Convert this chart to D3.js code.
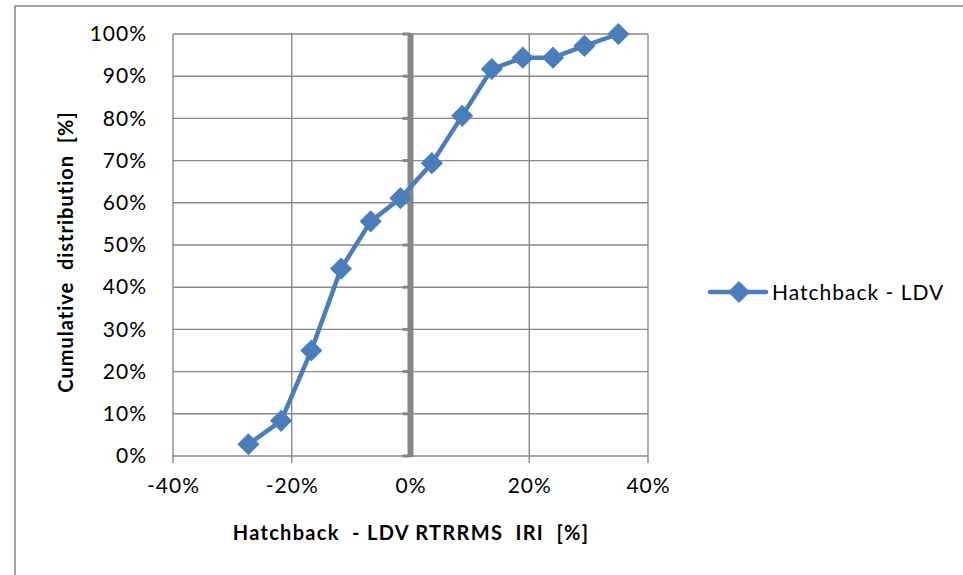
<!DOCTYPE html>
<html>
<head>
<meta charset="utf-8">
<script src="https://cdn.jsdelivr.net/npm/d3@7"></script>
<style>
  html, body { margin: 0; padding: 0; background: #fff; }
  svg { display: block; }
  text { font-family: Lato, "Open Sans", sans-serif; fill: #000; }
</style>
</head>
<body>
<svg id="chart" width="963" height="575"></svg>
<script>
// ---- data ----
const seriesName = "Hatchback - LDV";
const xValues = [-27.3, -21.8, -16.7, -11.7, -6.7, -1.7, 3.6, 8.7, 13.7, 18.9, 24.0, 29.3, 35.0];
const yValues = [2.78, 8.33, 25.0, 44.4, 55.6, 61.1, 69.4, 80.6, 91.7, 94.4, 94.4, 97.2, 100.0];
const xTicks = [-40, -20, 0, 20, 40];
const yTicks = [0, 10, 20, 30, 40, 50, 60, 70, 80, 90, 100];
const xTitle = "Hatchback  - LDV RTRRMS  IRI  [%]";
const yTitle = "Cumulative  distribution  [%]";

// ---- layout ----
const svg = d3.select("#chart");
const gridColor = "#898989";
const lineColor = "#4A7EBB";

// outer frame
svg.append("rect").attr("x", 15).attr("y", 6).attr("width", 960).attr("height", 600)
  .attr("fill", "none").attr("stroke", "#888").attr("stroke-width", 1.5);

const x = d3.scaleLinear().domain([-40, 40]).range([173, 648]);
const y = d3.scaleLinear().domain([0, 100]).range([456, 34]);

// horizontal gridlines
svg.append("g").selectAll("line").data(yTicks).join("line")
  .attr("x1", x(-40)).attr("x2", x(40))
  .attr("y1", d => y(d)).attr("y2", d => y(d))
  .attr("stroke", gridColor).attr("stroke-width", 1.4);

// vertical gridlines (with tick extension below)
svg.append("g").selectAll("line").data(xTicks.filter(d => d !== 0)).join("line")
  .attr("x1", d => x(d)).attr("x2", d => x(d))
  .attr("y1", y(100)).attr("y2", y(0) + 7)
  .attr("stroke", gridColor).attr("stroke-width", 1.4);

// x axis labels
const xAxis = svg.append("g").attr("transform", `translate(0,${y(0)})`)
  .call(d3.axisBottom(x).tickValues(xTicks).tickSize(0).tickPadding(22).tickFormat(d => d + "%"));
xAxis.select(".domain").remove();
xAxis.selectAll("text").attr("font-size", 21).attr("letter-spacing", 1)
  .style("font-family", "Lato, 'Open Sans', sans-serif").attr("fill", "#000");

// y axis labels
const yAxis = svg.append("g").attr("transform", `translate(${x(-40)},0)`)
  .call(d3.axisLeft(y).tickValues(yTicks).tickSize(0).tickPadding(26).tickFormat(d => d + "%"));
yAxis.select(".domain").remove();
yAxis.selectAll("text").attr("font-size", 21).attr("letter-spacing", 1)
  .style("font-family", "Lato, 'Open Sans', sans-serif").attr("fill", "#000");

// thick vertical axis at x = 0 with tick marks
svg.append("line").attr("x1", x(0)).attr("x2", x(0)).attr("y1", y(100) - 1).attr("y2", y(0) + 1)
  .attr("stroke", "#868686").attr("stroke-width", 6);
svg.append("g").selectAll("line").data(yTicks).join("line")
  .attr("x1", x(0) - 8).attr("x2", x(0))
  .attr("y1", d => y(d)).attr("y2", d => y(d))
  .attr("stroke", "#868686").attr("stroke-width", 3);

// series line
const line = d3.line().x((d, i) => x(xValues[i])).y((d, i) => y(yValues[i]));
svg.append("path").datum(xValues).attr("d", line)
  .attr("fill", "none").attr("stroke", lineColor).attr("stroke-width", 4.5)
  .attr("stroke-linejoin", "round");

// diamond markers
svg.append("g").selectAll("path").data(xValues).join("path")
  .attr("transform", (d, i) => `translate(${x(xValues[i])},${y(yValues[i])}) rotate(45)`)
  .attr("d", d3.symbol().type(d3.symbolSquare).size(215))
  .attr("fill", lineColor).attr("stroke", lineColor).attr("stroke-width", 1);

// axis titles
svg.append("text").attr("x", 411).attr("y", 540).attr("text-anchor", "middle")
  .attr("font-size", 20).attr("font-weight", "bold").attr("letter-spacing", 1.3)
  .style("white-space", "pre").text(xTitle);
svg.append("text").attr("transform", "translate(73,252) rotate(-90)").attr("text-anchor", "middle")
  .attr("font-size", 20).attr("font-weight", "bold").attr("letter-spacing", 1)
  .style("white-space", "pre").text(yTitle);

// legend
const lg = svg.append("g");
lg.append("line").attr("x1", 710).attr("x2", 766).attr("y1", 292).attr("y2", 292)
  .attr("stroke", lineColor).attr("stroke-width", 4.5).attr("stroke-linecap", "round");
lg.append("path").attr("transform", "translate(739,292) rotate(45)")
  .attr("d", d3.symbol().type(d3.symbolSquare).size(215))
  .attr("fill", lineColor).attr("stroke", lineColor);
lg.append("text").attr("x", 772).attr("y", 300).attr("font-size", 21).attr("letter-spacing", 1)
  .text(seriesName);
</script>
</body>
</html>
